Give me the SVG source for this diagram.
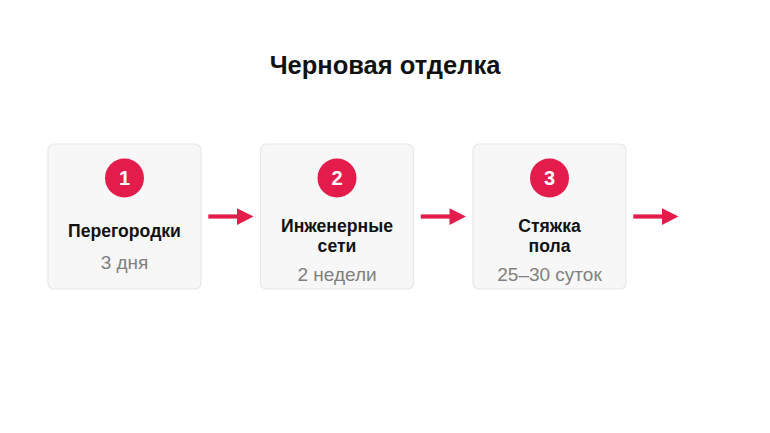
<svg xmlns="http://www.w3.org/2000/svg" width="770" height="433" viewBox="0 0 770 433">
<style>
.box{fill:#f7f7f7;stroke:#e8e8e8;stroke-width:1.2}
.num{fill:#e31c4b}
.numt{font-family:"Liberation Sans",Arial,sans-serif;font-weight:bold;font-size:20px;fill:#fff;text-anchor:middle}
.lbl{font-family:"Liberation Sans",Arial,sans-serif;font-weight:bold;font-size:17.6px;fill:#111;text-anchor:middle}
.sub{font-family:"Liberation Sans",Arial,sans-serif;font-size:19px;fill:#808080;text-anchor:middle}
.title{font-family:"Liberation Sans",Arial,sans-serif;font-weight:bold;font-size:25.5px;fill:#111;text-anchor:middle}
.conn line{stroke:#e31c4b;stroke-width:4.2}
.conn polygon{fill:#e31c4b}
</style>
<rect width="770" height="433" fill="#fff"/>
<text class="title" x="385" y="73.5">Черновая отделка</text>
<g id="node1">
<rect class="box" x="48" y="144" width="153" height="145" rx="6"/>
<circle class="num" cx="124.5" cy="178" r="19.5"/>
<text class="numt" x="124.5" y="185">1</text>
<text class="lbl" x="124.5" y="236.7">Перегородки</text>
<text class="sub" x="124.5" y="269">3 дня</text>
</g>
<g id="node2">
<rect class="box" x="260.5" y="144" width="153" height="145" rx="6"/>
<circle class="num" cx="337" cy="178" r="19.5"/>
<text class="numt" x="337" y="185">2</text>
<text class="lbl" x="337" y="231.7">Инженерные</text>
<text class="lbl" x="337" y="252.3">сети</text>
<text class="sub" x="337" y="280.7">2 недели</text>
</g>
<g id="node3">
<rect class="box" x="473" y="144" width="153" height="145" rx="6"/>
<circle class="num" cx="549.5" cy="178" r="19.5"/>
<text class="numt" x="549.5" y="185">3</text>
<text class="lbl" x="549.5" y="231.7">Стяжка</text>
<text class="lbl" x="549.5" y="252.3">пола</text>
<text class="sub" x="549.5" y="280.7">25–30 суток</text>
</g>
<g id="connectors" class="conn">
<line x1="208.3" y1="216.5" x2="238" y2="216.5"/>
<polygon points="237,208.3 253.5,216.6 237,225"/>
<line x1="420.8" y1="216.5" x2="450.5" y2="216.5"/>
<polygon points="449.5,208.3 466,216.6 449.5,225"/>
<line x1="633.3" y1="216.5" x2="663" y2="216.5"/>
<polygon points="662,208.3 678.5,216.6 662,225"/>
</g>
</svg>
